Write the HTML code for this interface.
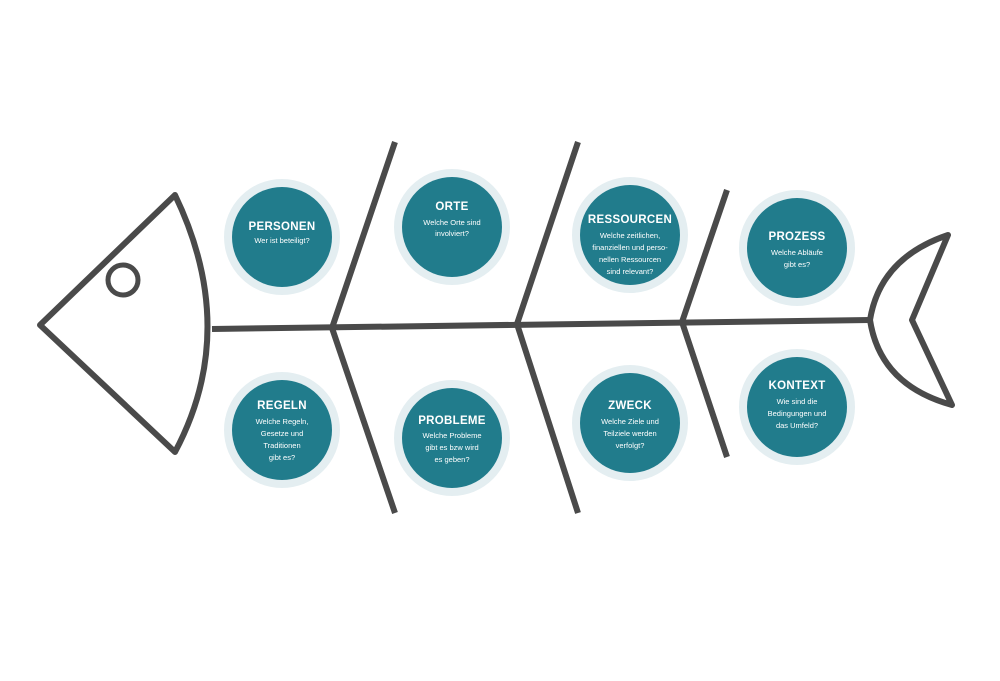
<!DOCTYPE html>
<html><head><meta charset="utf-8"><style>
html,body{margin:0;padding:0;background:#fff;}
svg{display:block}
text{font-family:"Liberation Sans",sans-serif;fill:#fff;text-anchor:middle}
.t{font-size:11.5px;font-weight:bold;letter-spacing:0.3px}
.b{font-size:7.5px}
</style></head><body>
<svg width="1000" height="681" viewBox="0 0 1000 681">
<g fill="none" stroke="#4a4a4a" stroke-width="6" stroke-linejoin="round" stroke-linecap="butt">
<path d="M175,195 L40,325 L175,452 Q240,330 175,195 Z"/>
<circle cx="123" cy="280" r="15" stroke-width="5"/>
<path d="M212,329 L870,320"/>
<path d="M395,142 L332,328 L395,513"/>
<path d="M578,142 L517,324 L578,513"/>
<path d="M727,190 L682,322 L727,457"/>
<path d="M870,320 Q880,258 948,235 L912,320 L952,405 Q880,385 870,320 Z"/>
</g>
<g>
<circle cx="282" cy="237" r="58" fill="#e4eef1"/><circle cx="282" cy="237" r="50" fill="#217c8c"/>
<circle cx="452" cy="227" r="58" fill="#e4eef1"/><circle cx="452" cy="227" r="50" fill="#217c8c"/>
<circle cx="282" cy="430" r="58" fill="#e4eef1"/><circle cx="282" cy="430" r="50" fill="#217c8c"/>
<circle cx="452" cy="438" r="58" fill="#e4eef1"/><circle cx="452" cy="438" r="50" fill="#217c8c"/>
<circle cx="630" cy="235" r="58" fill="#e4eef1"/><circle cx="630" cy="235" r="50" fill="#217c8c"/>
<circle cx="797" cy="248" r="58" fill="#e4eef1"/><circle cx="797" cy="248" r="50" fill="#217c8c"/>
<circle cx="630" cy="423" r="58" fill="#e4eef1"/><circle cx="630" cy="423" r="50" fill="#217c8c"/>
<circle cx="797" cy="407" r="58" fill="#e4eef1"/><circle cx="797" cy="407" r="50" fill="#217c8c"/>
</g>
<text class="t" x="282" y="230">PERSONEN</text>
<text class="b" x="282" y="243">Wer ist beteiligt?</text>
<text class="t" x="452" y="210">ORTE</text>
<text class="b" x="452" y="225">Welche Orte sind</text>
<text class="b" x="452" y="236">involviert?</text>
<text class="t" x="282" y="409">REGELN</text>
<text class="b" x="282" y="424">Welche Regeln,</text>
<text class="b" x="282" y="436">Gesetze und</text>
<text class="b" x="282" y="448">Traditionen</text>
<text class="b" x="282" y="460">gibt es?</text>
<text class="t" x="452" y="424">PROBLEME</text>
<text class="b" x="452" y="438">Welche Probleme</text>
<text class="b" x="452" y="450">gibt es bzw wird</text>
<text class="b" x="452" y="462">es geben?</text>
<text class="t" x="630" y="223">RESSOURCEN</text>
<text class="b" x="630" y="238">Welche zeitlichen,</text>
<text class="b" x="630" y="250">finanziellen und perso-</text>
<text class="b" x="630" y="262">nellen Ressourcen</text>
<text class="b" x="630" y="274">sind relevant?</text>
<text class="t" x="797" y="240">PROZESS</text>
<text class="b" x="797" y="255">Welche Abläufe</text>
<text class="b" x="797" y="267">gibt es?</text>
<text class="t" x="630" y="409">ZWECK</text>
<text class="b" x="630" y="424">Welche Ziele und</text>
<text class="b" x="630" y="436">Teilziele werden</text>
<text class="b" x="630" y="448">verfolgt?</text>
<text class="t" x="797" y="389">KONTEXT</text>
<text class="b" x="797" y="404">Wie sind die</text>
<text class="b" x="797" y="416">Bedingungen und</text>
<text class="b" x="797" y="428">das Umfeld?</text>
</svg>
</body></html>
